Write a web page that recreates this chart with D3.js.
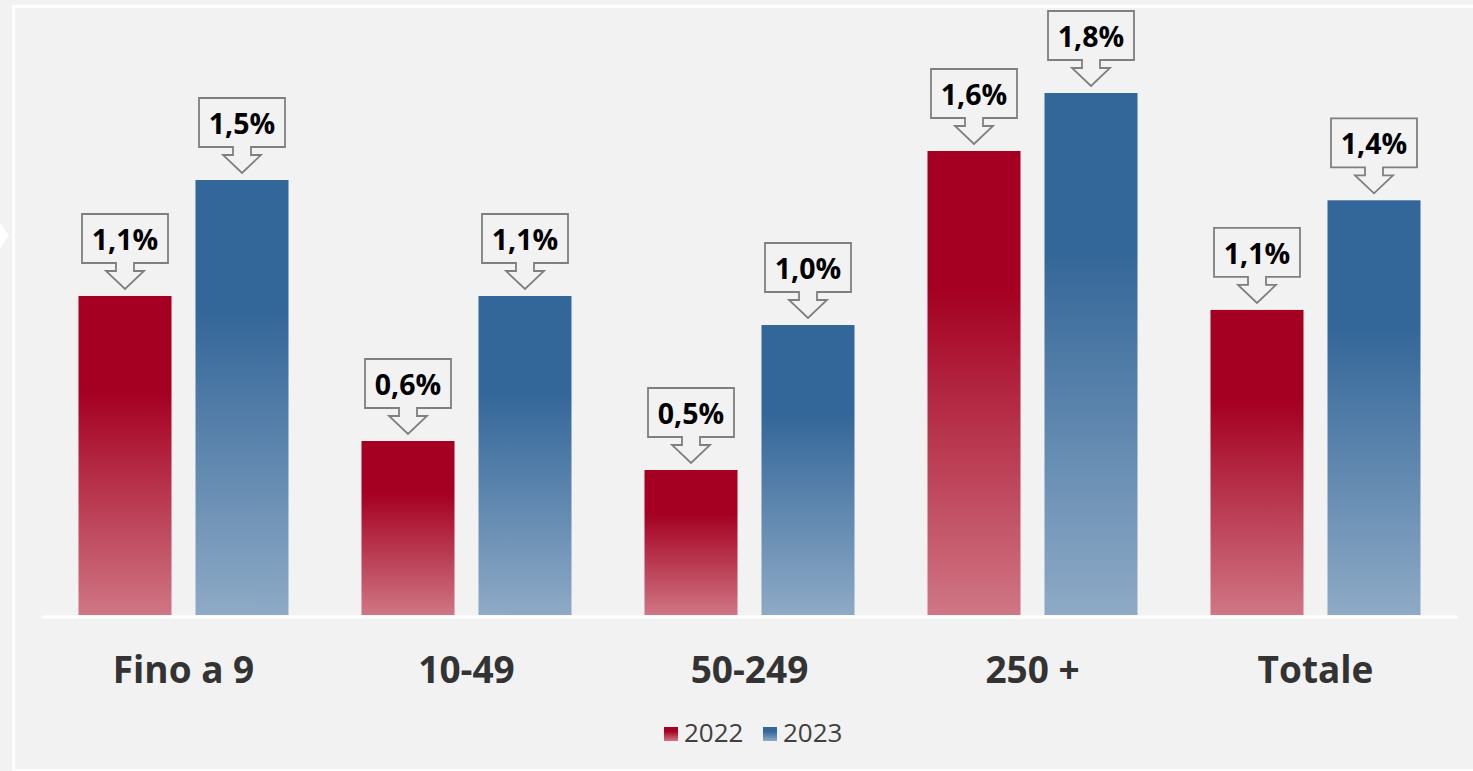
<!DOCTYPE html>
<html><head><meta charset="utf-8">
<script src="https://cdn.jsdelivr.net/npm/d3@7"></script>
<style>
html,body{margin:0;padding:0;background:#f2f2f2;}
svg{display:block;}
</style></head>
<body>
<script>
const categories = ["Fino a 9", "10-49", "50-249", "250 +", "Totale"];
const seriesNames = ["2022", "2023"];
const values2022 = [1.1, 0.6, 0.5, 1.6, 1.052];
const values2023 = [1.5, 1.1, 1.0, 1.8, 1.43];
const seriesValues = [values2022, values2023];

const W = 1473, H = 771;
const svg = d3.select("body").append("svg").attr("width", W).attr("height", H)
  .style("font-family", "'Open Sans', sans-serif");

svg.append("rect").attr("width", W).attr("height", H).attr("fill", "#f2f2f2");

// frame decorations
svg.append("rect").attr("x", 12).attr("y", 5).attr("width", W - 12).attr("height", 3).attr("fill", "#ffffff");
svg.append("rect").attr("x", 12).attr("y", 5).attr("width", 3).attr("height", H - 5).attr("fill", "#ffffff");
svg.append("rect").attr("x", 12).attr("y", 769).attr("width", W - 12).attr("height", 2).attr("fill", "#ffffff");
svg.append("path").attr("d", "M0,223 L9,235.5 L0,248 Z").attr("fill", "#ffffff");

const defs = svg.append("defs");
const gradSpec = {
  "2022": ["#a50021", "#cf7684"],
  "2023": ["#336699", "#8eaac6"]
};
seriesNames.forEach(s => {
  const g = defs.append("linearGradient").attr("id", "g" + s)
    .attr("x1", 0).attr("y1", 0).attr("x2", 0).attr("y2", 1);
  g.append("stop").attr("offset", 0).attr("stop-color", gradSpec[s][0]);
  g.append("stop").attr("offset", 0.3).attr("stop-color", gradSpec[s][0]);
  g.append("stop").attr("offset", 1).attr("stop-color", gradSpec[s][1]);
});

const x = d3.scaleBand().domain(categories).range([42, 1457]).paddingInner(0).paddingOuter(0);
const xs = d3.scaleBand().domain(seriesNames).range([0, x.bandwidth()])
  .paddingInner(24 / 117).paddingOuter(0.312);
const y = d3.scaleLinear().domain([0, 2]).range([615, 35]);

const fmt = v => d3.format(".1f")(v).replace(".", ",") + "%";

const data = [];
categories.forEach((c, i) => {
  seriesNames.forEach((s, j) => data.push({ c, s, v: seriesValues[j][i] }));
});

svg.append("g").selectAll("rect").data(data).join("rect")
  .attr("x", d => x(d.c) + xs(d.s))
  .attr("y", d => y(d.v))
  .attr("width", xs.bandwidth())
  .attr("height", d => y(0) - y(d.v))
  .attr("fill", d => `url(#g${d.s})`);

// callouts
const callout = svg.append("g").selectAll("g").data(data).join("g")
  .attr("transform", d => `translate(${x(d.c) + xs(d.s) + xs.bandwidth() / 2},${y(d.v)})`);
callout.append("path")
  .attr("d", "M-43,-82 L43,-82 L43,-33 L9,-33 L9,-25 L19,-25 L0,-7 L-19,-25 L-9,-25 L-9,-33 L-43,-33 Z")
  .attr("fill", "#f2f2f2").attr("stroke", "#7f7f7f").attr("stroke-width", 1.8)
  .attr("stroke-linejoin", "miter");
callout.append("text")
  .attr("x", 0).attr("y", -46)
  .attr("text-anchor", "middle")
  .attr("font-size", 28.5).attr("font-weight", 700).attr("fill", "#000")
  .text(d => fmt(d.v));

// x axis
const axis = svg.append("g").attr("transform", "translate(0,616.5)")
  .call(d3.axisBottom(x).tickSize(0).tickSizeOuter(0));
axis.select(".domain").attr("stroke", "#ffffff").attr("stroke-width", 3);
axis.selectAll("text")
  .attr("y", 66.5).attr("dy", 0)
  .attr("font-family", "'Open Sans', sans-serif")
  .attr("font-size", 37).attr("font-weight", 700).attr("fill", "#333333");

// legend
const legend = svg.append("g");
const legendX = [664, 763];
seriesNames.forEach((s, i) => {
  legend.append("rect").attr("x", legendX[i]).attr("y", 727).attr("width", 14).attr("height", 14)
    .attr("fill", `url(#g${s})`);
  legend.append("text").attr("x", legendX[i] + 20).attr("y", 742)
    .attr("font-size", 26).attr("fill", "#404040").text(s);
});
</script>
</body></html>
